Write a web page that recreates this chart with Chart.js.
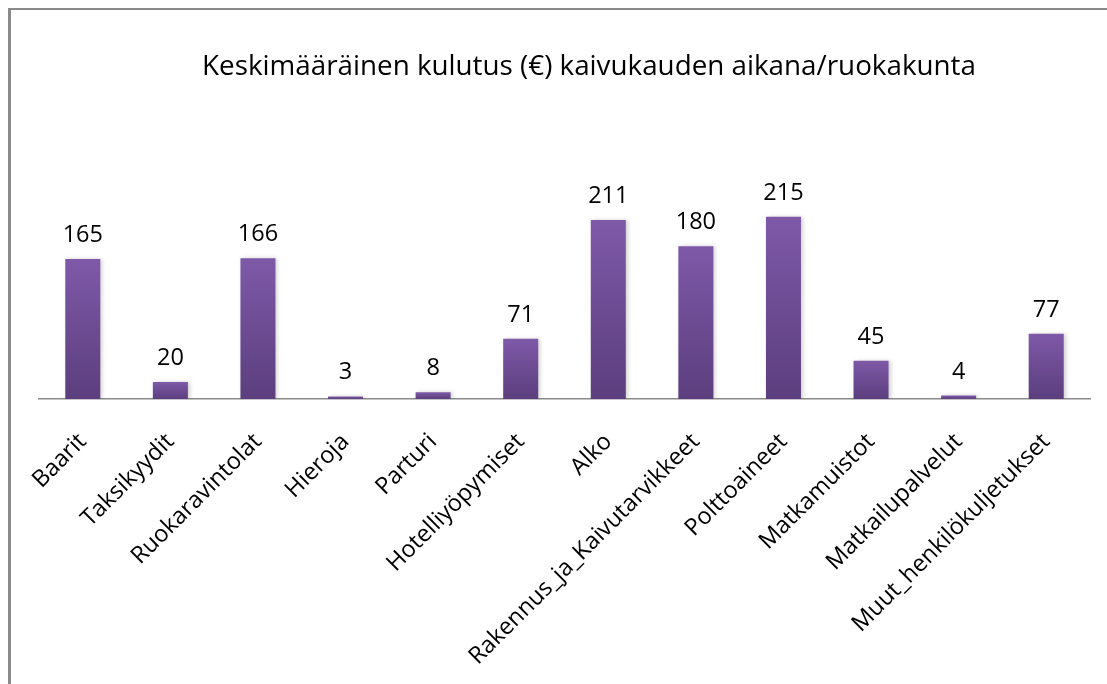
<!DOCTYPE html>
<html lang="fi">
<head>
<meta charset="UTF-8">
<title>Keskimääräinen kulutus</title>
<script src="https://cdn.jsdelivr.net/npm/chart.js@4.4.0/dist/chart.umd.min.js"></script>
<style>
* { margin: 0; padding: 0; box-sizing: border-box; }
body { background: #fff; width: 1107px; height: 684px; overflow: hidden; }
.frame {
    position: absolute;
    left: 8px;
    top: 8px;
    width: 1107px;
    height: 690px;
    border-left: 3px solid #8a8a8a;
    border-top: 2px solid #8a8a8a;
}
.wrap { position: absolute; left: 0; top: 0; width: 1107px; height: 684px; }
</style>
</head>
<body>
<div class="frame"></div>
<div class="wrap"><canvas id="chart" width="1107" height="684"></canvas></div>
<script>
var categories = ['Baarit', 'Taksikyydit', 'Ruokaravintolat', 'Hieroja', 'Parturi', 'Hotelliyöpymiset',
    'Alko', 'Rakennus_ja_Kaivutarvikkeet', 'Polttoaineet', 'Matkamuistot', 'Matkailupalvelut',
    'Muut_henkilökuljetukset'];
var spending = [165, 20, 166, 3, 8, 71, 211, 180, 215, 45, 4, 77];
var chartTitle = 'Keskimääräinen kulutus (€) kaivukauden aikana/ruokakunta';

var FONT = '"Open Sans", Lato, sans-serif';

// gradient for each bar, light at top, darker at the base
function barFill(ctx) {
    var chart = ctx.chart;
    var y = chart.scales.y;
    if (!y || ctx.parsed == null) return '#7552a0';
    var top = y.getPixelForValue(ctx.parsed.y);
    var bottom = y.getPixelForValue(0);
    if (!isFinite(top) || bottom - top < 1) return '#7552a0';
    var g = chart.ctx.createLinearGradient(0, top, 0, bottom);
    g.addColorStop(0, '#7e59a8');
    g.addColorStop(1, '#5c3e7e');
    return g;
}

var valueLabels = {
    id: 'valueLabels',
    afterDatasetsDraw: function(chart) {
        var ctx = chart.ctx;
        var meta = chart.getDatasetMeta(0);
        ctx.save();
        ctx.font = '23.5px ' + FONT;
        ctx.fillStyle = '#000';
        ctx.textAlign = 'center';
        ctx.textBaseline = 'alphabetic';
        meta.data.forEach(function(bar, i) {
            ctx.fillText(String(spending[i]), bar.x, bar.y - 17);
        });
        ctx.restore();
    }
};

var titleText = {
    id: 'titleText',
    afterDraw: function(chart) {
        var ctx = chart.ctx;
        ctx.save();
        ctx.font = '27.8px ' + FONT;
        ctx.fillStyle = '#000';
        ctx.textAlign = 'center';
        ctx.textBaseline = 'alphabetic';
        ctx.fillText(chartTitle, 589, 75);
        ctx.restore();
    }
};

var barShadow = {
    id: 'barShadow',
    beforeDatasetsDraw: function(chart) {
        var ctx = chart.ctx;
        ctx.save();
        ctx.shadowColor = 'rgba(0,0,0,0.18)';
        ctx.shadowBlur = 4;
        ctx.shadowOffsetX = 2;
        ctx.shadowOffsetY = 0;
    },
    afterDatasetsDraw: function(chart) {
        chart.ctx.restore();
    }
};

new Chart(document.getElementById('chart'), {
    type: 'bar',
    data: {
        labels: categories,
        datasets: [{
            data: spending,
            backgroundColor: barFill,
            borderWidth: 0,
            categoryPercentage: 1.0,
            barPercentage: 0.4
        }]
    },
    options: {
        responsive: false,
        animation: false,
        devicePixelRatio: 1,
        layout: { padding: { left: 39, right: 17, top: 187, bottom: 0 } },
        plugins: {
            legend: { display: false },
            title: { display: false },
            tooltip: { enabled: false }
        },
        scales: {
            x: {
                grid: { display: false, drawTicks: false },
                border: { display: true, color: '#8a8a8a', width: 1.5 },
                ticks: {
                    color: '#000',
                    font: { family: FONT, size: 23.5 },
                    minRotation: 45,
                    maxRotation: 45,
                    padding: 29,
                    autoSkip: false
                },
                afterFit: function(scale) { scale.height = 285; }
            },
            y: {
                display: false,
                min: 0,
                max: 250
            }
        }
    },
    plugins: [barShadow, valueLabels, titleText]
});
</script>
</body>
</html>
